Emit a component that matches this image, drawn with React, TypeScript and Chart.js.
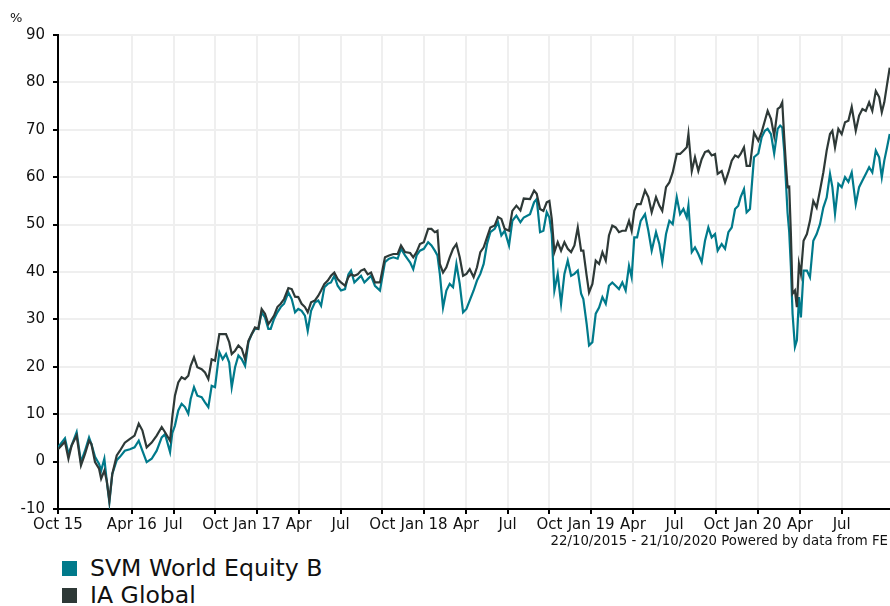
import { useEffect, useRef } from "react";
import { Chart, registerables } from "chart.js";

Chart.register(...registerables);

// x position in months counted from 1 Oct 2015 (22 Oct 2015 = 0.7)
const monthOffsets = [
  0.7, 1.2, 1.45, 1.68, 2.04, 2.35, 2.64, 2.93, 3.1, 3.36, 3.65, 3.8, 4.03, 4.2, 4.39, 4.6, 4.92, 5.15, 5.5, 5.87,
  6.2, 6.5, 6.76, 7.07, 7.43, 7.79, 8.15, 8.39, 8.75, 8.91, 9.1, 9.34, 9.58, 9.82, 10.06, 10.23, 10.47, 10.71, 11.02, 11.26,
  11.5, 11.74, 11.98, 12.29, 12.53, 12.77, 13.0, 13.18, 13.42, 13.66, 13.9, 14.14, 14.38, 14.62, 14.85, 15.09, 15.33, 15.57, 15.81, 15.98,
  16.22, 16.46, 16.7, 16.94, 17.25, 17.49, 17.73, 17.96, 18.2, 18.44, 18.64, 18.88, 19.16, 19.4, 19.6, 19.84, 20.08, 20.31, 20.55, 20.79,
  21.03, 21.32, 21.56, 21.75, 21.99, 22.23, 22.47, 22.71, 22.95, 23.19, 23.47, 23.83, 24.19, 24.48, 24.79, 25.1, 25.34, 25.63, 26.0, 26.22,
  26.46, 26.7, 26.98, 27.29, 27.53, 27.77, 27.96, 28.13, 28.36, 28.6, 28.84, 29.08, 29.32, 29.56, 29.8, 30.04, 30.28, 30.56, 30.8, 31.04,
  31.28, 31.52, 31.76, 32.07, 32.31, 32.55, 32.79, 33.1, 33.34, 33.63, 33.92, 34.16, 34.61, 34.9, 35.09, 35.33, 35.57, 35.81, 36.0, 36.17,
  36.36, 36.6, 36.84, 37.08, 37.32, 37.56, 37.8, 38.04, 38.28, 38.44, 38.68, 38.85, 39.09, 39.33, 39.57, 39.81, 40.05, 40.28, 40.52, 40.76,
  41.0, 41.24, 41.48, 41.72, 41.91, 42.1, 42.3, 42.56, 42.87, 43.11, 43.35, 43.66, 43.9, 44.11, 44.38, 44.62, 44.86, 45.15, 45.39, 45.63,
  45.87, 45.99, 46.23, 46.46, 46.7, 46.94, 47.18, 47.42, 47.66, 47.9, 48.09, 48.38, 48.62, 48.86, 49.1, 49.34, 49.57, 49.74, 49.98, 50.17,
  50.41, 50.7, 51.01, 51.25, 51.48, 51.68, 51.92, 52.15, 52.4, 52.58, 52.73, 52.87, 52.99, 53.11, 53.23, 53.35, 53.47, 53.64, 53.78, 53.93,
  54.07, 54.26, 54.5, 54.72, 54.96, 55.2, 55.44, 55.68, 55.92, 56.16, 56.33, 56.52, 56.76, 57.0, 57.24, 57.48, 57.72, 58.01, 58.25, 58.49,
  58.73, 58.97, 59.2, 59.45, 59.69, 59.88, 60.06, 60.26, 60.45,
];

const svmWorldEquityB = [
  3.0, 4.9, 1.6, 3.4, 6.2, -0.1, 2.3, 5.1, 3.7, 1.0, -0.5, -1.9, 0.6, -4.0, -8.6, -2.6, 0.3, 1.0, 2.3, 2.6,
  3.0, 4.4, 2.3, -0.1, 0.6, 2.3, 5.1, 5.8, 2.0, 6.0, 7.6, 10.8, 12.2, 11.5, 10.1, 13.2, 15.7, 13.9, 13.6, 12.5,
  11.5, 16.0, 15.7, 23.1, 21.6, 22.7, 20.9, 15.7, 19.9, 22.4, 21.6, 20.2, 25.2, 26.9, 28.0, 28.0, 31.5, 30.4, 28.0, 28.0,
  30.1, 31.5, 32.6, 33.3, 35.7, 34.3, 31.5, 32.2, 31.8, 30.8, 27.6, 31.8, 33.6, 34.0, 32.9, 36.8, 37.5, 37.8, 39.2, 37.1,
  36.1, 36.4, 39.5, 40.3, 37.8, 38.5, 39.2, 37.8, 38.5, 39.2, 37.1, 36.1, 42.1, 42.8, 43.1, 42.8, 44.9, 43.5, 42.0, 40.6,
  43.5, 44.5, 44.9, 46.3, 45.6, 44.5, 43.5, 39.6, 32.5, 36.1, 37.5, 36.8, 41.7, 37.5, 31.5, 32.2, 34.0, 36.1, 38.2, 39.6,
  41.7, 45.9, 48.4, 49.1, 50.5, 47.7, 48.7, 45.6, 50.8, 51.9, 50.5, 51.5, 52.2, 54.7, 55.4, 48.4, 48.7, 52.6, 51.5, 48.0,
  36.1, 39.6, 33.3, 39.6, 42.4, 39.2, 39.6, 40.3, 35.4, 34.3, 29.0, 24.5, 25.2, 31.2, 32.5, 34.7, 33.3, 37.1, 37.8, 37.1,
  36.4, 37.8, 36.1, 41.3, 38.9, 47.3, 47.3, 50.8, 52.2, 48.7, 44.5, 48.4, 45.9, 42.1, 48.0, 50.8, 50.1, 55.8, 52.2, 53.3,
  51.5, 54.0, 44.2, 45.2, 43.8, 42.1, 46.6, 49.4, 47.3, 48.0, 44.5, 45.9, 44.9, 48.4, 49.4, 53.3, 54.0, 55.8, 57.5, 52.6,
  53.3, 64.2, 65.0, 68.4, 69.8, 70.2, 69.1, 65.0, 70.2, 70.9, 70.5, 65.6, 59.2, 52.5, 48.4, 41.0, 31.2, 24.2, 25.6, 34.7,
  30.4, 40.3, 40.3, 38.9, 46.6, 48.0, 50.1, 53.6, 55.7, 60.7, 57.9, 52.3, 58.6, 57.9, 60.0, 59.0, 61.0, 54.3, 57.9, 59.3,
  60.7, 62.1, 61.0, 65.6, 64.2, 60.0, 63.5, 66.3, 69.1,
];

const iaGlobal = [
  2.6, 4.2, 0.6, 3.4, 5.5, -0.8, 1.6, 4.4, 3.7, -0.1, -1.5, -3.6, -1.9, -4.0, -8.2, -2.6, 1.3, 2.3, 4.0, 4.8,
  5.5, 8.0, 6.6, 3.0, 4.0, 5.5, 7.3, 6.2, 4.4, 9.4, 13.9, 16.7, 17.8, 17.4, 18.1, 20.2, 22.0, 19.9, 19.5, 18.8,
  17.4, 21.6, 21.3, 26.9, 26.9, 26.9, 25.2, 22.7, 23.4, 24.5, 23.8, 21.6, 25.5, 26.9, 28.3, 28.0, 32.2, 31.2, 29.0, 29.7,
  30.8, 32.6, 33.3, 34.3, 36.6, 36.4, 34.8, 34.7, 33.3, 32.6, 31.5, 33.6, 34.0, 35.0, 36.1, 37.5, 38.2, 39.2, 39.9, 38.5,
  37.8, 37.1, 38.9, 39.5, 39.2, 39.5, 40.3, 40.6, 39.5, 39.9, 37.8, 37.8, 43.1, 43.5, 43.8, 43.8, 45.6, 44.2, 44.0, 43.1,
  44.2, 45.9, 46.3, 49.1, 49.1, 48.4, 48.7, 41.7, 39.9, 41.0, 43.1, 44.9, 45.9, 43.1, 39.2, 39.6, 40.6, 38.9, 41.0, 44.2,
  45.2, 47.3, 49.4, 49.8, 51.6, 51.2, 49.1, 48.7, 52.9, 54.0, 53.0, 55.5, 55.4, 57.2, 56.5, 53.3, 52.9, 54.7, 55.0, 51.2,
  44.2, 46.3, 44.5, 46.3, 44.9, 44.2, 45.6, 49.4, 44.5, 44.5, 39.2, 35.7, 37.5, 42.4, 41.7, 44.2, 42.4, 47.7, 49.8, 49.4,
  48.4, 48.7, 48.7, 50.8, 48.7, 52.9, 54.3, 54.3, 57.2, 55.8, 52.6, 55.8, 54.0, 52.9, 57.9, 58.9, 61.0, 64.9, 64.9, 65.6,
  66.3, 69.1, 61.3, 64.2, 61.3, 63.8, 65.3, 65.6, 64.6, 64.9, 60.7, 61.3, 58.9, 61.0, 63.5, 64.6, 64.2, 64.9, 66.3, 62.4,
  62.4, 69.4, 67.7, 69.5, 71.9, 74.0, 72.3, 68.7, 74.4, 74.8, 75.8, 68.4, 62.8, 57.9, 58.0, 48.0, 35.4, 36.1, 32.6, 41.7,
  39.6, 46.6, 48.0, 50.8, 55.0, 53.6, 57.2, 61.0, 65.6, 69.1, 69.8, 66.3, 70.2, 69.1, 71.6, 71.9, 74.8, 69.8, 73.0, 74.4,
  74.0, 75.8, 74.0, 78.2, 76.9, 73.7, 75.8, 79.6, 83.1,
];

const xTickValues = [0.7, 6, 9, 12, 15, 18, 21, 24, 27, 30, 33, 36, 39, 42, 45, 48, 51, 54, 57];
const xTickLabels = [
  "Oct 15", "Apr 16", "Jul", "Oct", "Jan 17", "Apr", "Jul", "Oct", "Jan 18", "Apr",
  "Jul", "Oct", "Jan 19", "Apr", "Jul", "Oct", "Jan 20", "Apr", "Jul",
];
const yMin = -10;
const yMax = 90;
const yStep = 10;

const TEAL = "#007a8b";
const DARK = "#2e3937";
const FONT = "'DejaVu Sans', Verdana, sans-serif";

export default function App() {
  const ref = useRef<HTMLCanvasElement>(null);

  useEffect(() => {
    if (!ref.current) return;
    const tickFont = { family: FONT, size: 15 };
    const chart = new Chart(ref.current, {
      type: "line",
      data: {
        datasets: [
          {
            label: "SVM World Equity B",
            data: monthOffsets.map((x, i) => ({ x, y: svmWorldEquityB[i] })),
            borderColor: TEAL,
            backgroundColor: TEAL,
            borderWidth: 2.2,
            pointRadius: 0,
            tension: 0,
            order: 1,
          },
          {
            label: "IA Global",
            data: monthOffsets.map((x, i) => ({ x, y: iaGlobal[i] })),
            borderColor: DARK,
            backgroundColor: DARK,
            borderWidth: 2.2,
            pointRadius: 0,
            tension: 0,
            order: 0,
          },
        ],
      },
      options: {
        animation: false,
        responsive: false,
        maintainAspectRatio: false,
        layout: { padding: { top: 35, left: 0, right: 0, bottom: 0 } },
        plugins: { legend: { display: false }, tooltip: { enabled: false } },
        scales: {
          x: {
            type: "linear",
            min: 0.7,
            max: 60.47,
            afterBuildTicks: (s: any) => {
              s.ticks = xTickValues.map((v) => ({ value: v }));
            },
            afterFit: (s: any) => {
              s.height = 31;
            },
            ticks: {
              autoSkip: false,
              maxRotation: 0,
              minRotation: 0,
              padding: 2,
              color: "#111",
              font: tickFont,
              callback: (_v: any, i: number) => xTickLabels[i],
            },
            grid: { color: "#efefef", lineWidth: 2, tickColor: "#000", tickLength: 5, tickWidth: 2 },
            border: { color: "#000", width: 2 },
          },
          y: {
            type: "linear",
            min: yMin,
            max: yMax,
            afterFit: (s: any) => {
              s.width = 58;
            },
            ticks: {
              stepSize: yStep,
              padding: 8,
              color: "#111",
              font: tickFont,
            },
            grid: { color: "#efefef", lineWidth: 2, tickColor: "#000", tickLength: 5, tickWidth: 2 },
            border: { color: "#000", width: 2 },
          },
        },
      },
    });
    return () => chart.destroy();
  }, []);

  return (
    <div
      style={{
        position: "absolute",
        left: 0,
        top: 0,
        width: 890,
        height: 606,
        overflow: "hidden",
        fontFamily: FONT,
        color: "#111",
        background: "#fff",
      }}
    >
      <canvas ref={ref} width={890} height={540} style={{ position: "absolute", left: 0, top: 0, width: 890, height: 540 }} />
      <div style={{ position: "absolute", left: 10, top: 10, fontSize: 13 }}>%</div>
      <div style={{ position: "absolute", right: 2, top: 533, fontSize: 13.3, whiteSpace: "nowrap" }}>
        22/10/2015 - 21/10/2020 Powered by data from FE
      </div>
      <div style={{ position: "absolute", left: 62, top: 555, fontSize: 23.6, lineHeight: "27px" }}>
        <div style={{ display: "flex", alignItems: "center" }}>
          <span style={{ display: "inline-block", width: 15, height: 15, background: TEAL, marginRight: 13 }} />
          <span>SVM World Equity B</span>
        </div>
        <div style={{ display: "flex", alignItems: "center" }}>
          <span style={{ display: "inline-block", width: 15, height: 15, background: DARK, marginRight: 13 }} />
          <span>IA Global</span>
        </div>
      </div>
    </div>
  );
}
